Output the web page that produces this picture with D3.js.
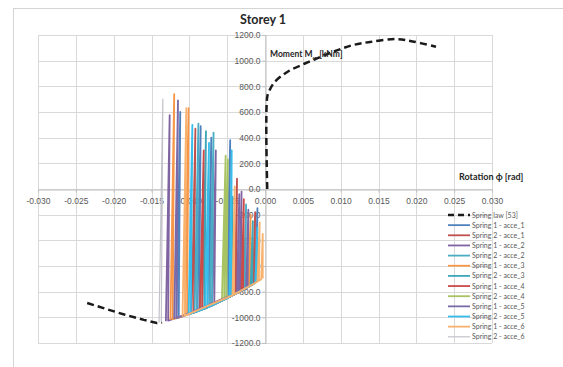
<!DOCTYPE html>
<html>
<head>
<meta charset="utf-8">
<script src="https://cdn.jsdelivr.net/npm/d3@7"></script>
<style>
  body { margin: 0; background: #fff; }
  svg { display: block; font-family: Lato, "Liberation Sans", sans-serif; }
</style>
</head>
<body>
<svg id="chart" width="563" height="367"></svg>
<script>
// tick values
const xTicks = [-0.030, -0.025, -0.020, -0.015, -0.010, -0.005, 0.000, 0.005, 0.010, 0.015, 0.020, 0.025, 0.030];
const yTicks = [-1200, -1000, -800, -600, -400, -200, 0, 200, 400, 600, 800, 1000, 1200];

// spring law [53], [rotation, moment]
const springNeg = [[-0.0235,-888],[-0.0210,-935],[-0.0185,-980],[-0.0160,-1020],[-0.0143,-1044],[-0.0136,-1040]];
const springPos = [[0.0003,0],[0.0003,720],[0.0006,770],[0.0013,835],[0.0030,914],[0.0052,976],[0.0074,1031],
  [0.0095,1080],[0.0115,1120],[0.0139,1146],[0.0173,1168],[0.0195,1150],[0.0226,1108]];

// hysteresis records
const s1a1 = [[-0.0117,-1007],[-0.0112,600],[-0.0114,-1002],[-0.0090,-955],[-0.0085,490],[-0.0087,-948],
  [-0.0076,-923],[-0.0071,400],[-0.0073,-915],[-0.0051,-855],[-0.0046,380],[-0.0048,-845],
  [-0.0013,-733],[-0.0010,-150],[-0.0011,-726]];
const s2a1 = [[-0.0097,-969],[-0.0092,470],[-0.0094,-963],[-0.0040,-820],[-0.0037,80],[-0.0038,-814],
  [-0.0016,-744],[-0.0013,-180],[-0.0014,-736]];
const s1a2 = [[-0.0131,-1030],[-0.0126,575],[-0.0128,-1025],[-0.0070,-908],[-0.0065,300],[-0.0067,-900],
  [-0.0034,-802],[-0.0031,-20],[-0.0032,-796]];
const s2a2 = [[-0.0093,-961],[-0.0088,510],[-0.0090,-955],[-0.0073,-915],[-0.0068,440],[-0.0070,-908],
  [-0.0028,-784],[-0.0025,-120],[-0.0026,-778]];
const s1a3 = [[-0.0125,-1020],[-0.0120,740],[-0.0122,-1015],[-0.0106,-987],[-0.0101,630],[-0.0103,-981],
  [-0.0022,-765],[-0.0019,-200],[-0.0020,-758]];
const s2a3 = [[-0.0083,-939],[-0.0078,450],[-0.0080,-932],[-0.0046,-838],[-0.0043,-60],[-0.0044,-832],
  [-0.0019,-754],[-0.0016,-250],[-0.0017,-747]];
const s1a4 = [[-0.0086,-946],[-0.0081,300],[-0.0083,-939],[-0.0031,-793],[-0.0028,-80],[-0.0029,-787]];
const s2a4 = [[-0.0057,-872],[-0.0052,260],[-0.0054,-863],[-0.0049,230],[-0.0051,-855]];
const s1a5 = [[-0.0120,-1012],[-0.0115,690],[-0.0117,-1007],[-0.0037,-811],[-0.0034,-40],[-0.0035,-805],
  [-0.0025,-775],[-0.0022,-160],[-0.0023,-768]];
const s2a5 = [[-0.0101,-977],[-0.0096,500],[-0.0098,-971],[-0.0079,-930],[-0.0074,360],[-0.0076,-923],
  [-0.0047,-842],[-0.0044,300],[-0.0045,-835],[-0.0013,-733],[-0.0010,-300],[-0.0011,-726]];
const s1a6 = [[-0.0109,-993],[-0.0104,630],[-0.0106,-987],[-0.0043,-829],[-0.0040,20],[-0.0041,-823],
  [-0.0010,-722],[-0.0007,-260],[-0.0008,-715],[-0.0005,-705],[-0.0003,-350],[-0.0003,-697]];
const s2a6 = [[-0.0140,-1040],[-0.0135,700],[-0.0137,-1037]];

const seriesNames = ["Spring 1 - acce_1","Spring 2 - acce_1","Spring 1 - acce_2","Spring 2 - acce_2",
  "Spring 1 - acce_3","Spring 2 - acce_3","Spring 1 - acce_4","Spring 2 - acce_4",
  "Spring 1 - acce_5","Spring 2 - acce_5","Spring 1 - acce_6","Spring 2 - acce_6"];
const seriesData = [s1a1, s2a1, s1a2, s2a2, s1a3, s2a3, s1a4, s2a4, s1a5, s2a5, s1a6, s2a6];
const seriesColors = ["#4f81bd","#c0504d","#8064a2","#4bacc6","#f79646","#3fa6b8",
  "#cc4a47","#a8c462","#7c6aa8","#35bdec","#f8b26e","#c2c2ca"];

const svg = d3.select("#chart");
const x = d3.scaleLinear().domain([-0.03, 0.03]).range([38, 492]);
const y = d3.scaleLinear().domain([-1200, 1200]).range([343, 35]);

// chart frame
svg.append("rect").attr("x", 13.5).attr("y", 8.5).attr("width", 600).attr("height", 400)
  .attr("fill", "#fff").attr("stroke", "#d4d4d4");

// grid
const grid = svg.append("g").attr("stroke", "#d9d9d9").attr("stroke-width", 1);
grid.selectAll("line.v").data(xTicks).enter().append("line")
  .attr("x1", d => Math.round(x(d)) + 0.5).attr("x2", d => Math.round(x(d)) + 0.5)
  .attr("y1", y(1200)).attr("y2", y(-1200));
grid.selectAll("line.h").data(yTicks).enter().append("line")
  .attr("y1", d => Math.round(y(d)) + 0.5).attr("y2", d => Math.round(y(d)) + 0.5)
  .attr("x1", x(-0.03)).attr("x2", x(0.03));

// axes through the origin
const xAxis = svg.append("g").attr("transform", `translate(0,${Math.round(y(0)) + 0.5})`)
  .call(d3.axisBottom(x).tickValues(xTicks).tickSize(3).tickPadding(5).tickFormat(d => d.toFixed(3)));
const yAxis = svg.append("g").attr("transform", `translate(${Math.round(x(0)) + 0.5},0)`)
  .call(d3.axisLeft(y).tickValues(yTicks).tickSize(3).tickPadding(2).tickFormat(d => d.toFixed(1)));
[xAxis, yAxis].forEach(a => {
  a.select(".domain").attr("stroke", "#bfbfbf");
  a.selectAll(".tick line").attr("stroke", "#bfbfbf");
  a.selectAll(".tick text").attr("fill", "#595959").style("font-size", "8.5px");
});

// series
const line = d3.line().x(d => x(d[0])).y(d => y(d[1]));
const smooth = d3.line().x(d => x(d[0])).y(d => y(d[1])).curve(d3.curveCatmullRom.alpha(0.5));
svg.append("path").attr("d", line(springNeg)).attr("fill", "none")
  .attr("stroke", "#1a1a1a").attr("stroke-width", 2.5).attr("stroke-dasharray", "7,4");
svg.append("path").attr("d", smooth(springPos)).attr("fill", "none")
  .attr("stroke", "#1a1a1a").attr("stroke-width", 2.5).attr("stroke-dasharray", "7,4");
seriesData.forEach((p, i) => {
  svg.append("path").attr("d", line(p)).attr("fill", "none")
    .attr("stroke", seriesColors[i]).attr("stroke-width", i === 11 ? 1.2 : 1.8)
    .attr("stroke-linejoin", "round");
});

// titles
svg.append("text").attr("x", 263).attr("y", 24).attr("text-anchor", "middle")
  .style("font-size", "12.5px").style("font-weight", "bold").attr("fill", "#262626").text("Storey 1");
const mt = svg.append("text").attr("x", 270).attr("y", 57)
  .style("font-size", "8.5px").style("font-weight", "bold").attr("fill", "#262626");
mt.append("tspan").text("Moment M");
mt.append("tspan").attr("dy", 2.5).style("font-size", "6px").text("φ");
mt.append("tspan").attr("dy", -2.5).text(" [kNm]");
svg.append("text").attr("x", 459).attr("y", 180)
  .style("font-size", "9px").style("font-weight", "bold").attr("fill", "#262626").text("Rotation ϕ [rad]");

// legend
const legend = svg.append("g").attr("transform", "translate(448,215)");
const legendNames = ["Spring law [53]"].concat(seriesNames);
const legendColors = ["#1a1a1a"].concat(seriesColors);
legendNames.forEach((name, i) => {
  const row = legend.append("g").attr("transform", `translate(0,${i * 10.15})`);
  row.append("line").attr("x1", 0).attr("x2", 22).attr("y1", 0).attr("y2", 0)
    .attr("stroke", legendColors[i])
    .attr("stroke-width", i === 0 ? 2.5 : (i === 12 ? 1.2 : 1.8))
    .attr("stroke-dasharray", i === 0 ? "6,4" : null);
  row.append("text").attr("x", 24).attr("y", 2.5).style("font-size", "7px")
    .attr("fill", "#595959").text(name);
});
</script>
</body>
</html>
